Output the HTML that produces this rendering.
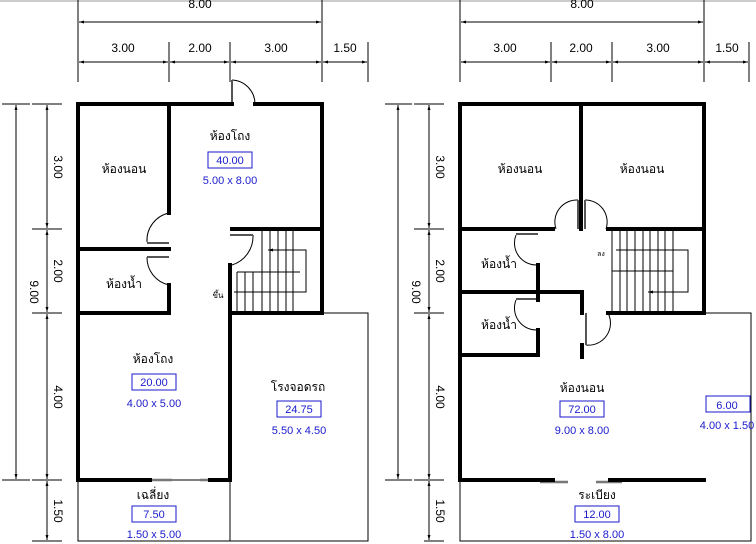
<!DOCTYPE html>
<html><head><meta charset="utf-8"><style>
html,body{margin:0;padding:0;background:#fff;}
svg{display:block;}
text{font-family:"Liberation Sans","Noto Sans CJK SC",sans-serif;}
</style></head><body>
<svg width="756" height="544" viewBox="0 0 756 544" xmlns="http://www.w3.org/2000/svg">
<defs>
<marker id="a" viewBox="0 0 10 10" refX="10" refY="5" markerWidth="7" markerHeight="5" orient="auto-start-reverse"><path d="M0,2 L10,5 L0,8z" fill="#000"/></marker>
</defs>
<line x1="0" y1="1" x2="756" y2="1" stroke="#999" stroke-width="1"/>
<g stroke="#000" stroke-width="1" fill="none">
<line x1="78" y1="0" x2="78" y2="82"/><line x1="322" y1="0" x2="322" y2="82"/>
<line x1="169" y1="42" x2="169" y2="82"/><line x1="230" y1="42" x2="230" y2="82"/><line x1="368" y1="42" x2="368" y2="82"/>
<line x1="79" y1="22" x2="321" y2="22" marker-start="url(#a)" marker-end="url(#a)"/>
<line x1="79" y1="62" x2="168" y2="62" marker-start="url(#a)" marker-end="url(#a)"/>
<line x1="170" y1="62" x2="229" y2="62" marker-start="url(#a)" marker-end="url(#a)"/>
<line x1="231" y1="62" x2="321" y2="62" marker-start="url(#a)" marker-end="url(#a)"/>
<line x1="323" y1="62" x2="367" y2="62" marker-start="url(#a)" marker-end="url(#a)"/>
<line x1="2" y1="104" x2="30" y2="104"/><line x1="32" y1="104" x2="62" y2="104"/>
<line x1="2" y1="480" x2="30" y2="480"/><line x1="32" y1="480" x2="62" y2="480"/>
<line x1="32" y1="229" x2="62" y2="229"/><line x1="32" y1="313" x2="62" y2="313"/><line x1="32" y1="541" x2="62" y2="541"/>
<line x1="16" y1="105" x2="16" y2="479" marker-start="url(#a)" marker-end="url(#a)"/>
<line x1="47" y1="105" x2="47" y2="228" marker-start="url(#a)" marker-end="url(#a)"/>
<line x1="47" y1="230" x2="47" y2="312" marker-start="url(#a)" marker-end="url(#a)"/>
<line x1="47" y1="314" x2="47" y2="479" marker-start="url(#a)" marker-end="url(#a)"/>
<line x1="47" y1="481" x2="47" y2="540" marker-start="url(#a)" marker-end="url(#a)"/>
<rect x="78" y="480" width="152" height="61"/>
<polyline points="230,313 368,313 368,541 230,541 230,480"/>
<path d="M262,230V272M270,230V272M278,230V272M286,230V272M293,230V272"/>
<path d="M237,272H300M237,272V313M245,272V313M253,272V313M262,272V313M270,272V313M278,272V313M286,272V313M293,272V313"/>
<path d="M234,292H306V250H268" marker-end="url(#a)"/>
<path d="M232,80 A24,24 0 0 1 255,104"/><line x1="232" y1="80" x2="232" y2="104" stroke-width="2" stroke="#555"/>
<path d="M169,213 A28,28 0 0 0 147,242"/><line x1="147" y1="243" x2="169" y2="243" stroke="#555" stroke-width="2"/>
<path d="M147,257 A28,28 0 0 0 169,285"/><line x1="147" y1="257" x2="169" y2="257" stroke="#555" stroke-width="2"/>
<path d="M253,235 A30,30 0 0 1 232,265"/><line x1="230" y1="235" x2="253" y2="235" stroke="#555" stroke-width="2"/>
<line x1="150" y1="480" x2="172" y2="480" stroke="#777" stroke-width="2.5"/>
<line x1="200" y1="480" x2="222" y2="480" stroke="#777" stroke-width="2.5"/>
</g>
<g stroke="#000" stroke-width="4" fill="none" stroke-linecap="square">
<polyline points="232,104 78,104 78,480 150,480"/>
<polyline points="255,104 322,104 322,313 232,313"/>
<line x1="169" y1="104" x2="169" y2="213"/>
<line x1="78" y1="249" x2="169" y2="249"/>
<line x1="169" y1="285" x2="169" y2="313"/><line x1="78" y1="313" x2="169" y2="313"/>
<line x1="232" y1="229" x2="322" y2="229"/>
<line x1="230" y1="265" x2="230" y2="480"/><line x1="210" y1="480" x2="230" y2="480"/>
</g>
<g font-size="12" text-anchor="middle" fill="#000">
<text x="200" y="8">8.00</text>
<text x="123" y="52">3.00</text><text x="200" y="52">2.00</text><text x="276" y="52">3.00</text><text x="345" y="52">1.50</text>
<text transform="translate(30,292) rotate(90)">9.00</text>
<text transform="translate(54,167) rotate(90)">3.00</text>
<text transform="translate(54,271) rotate(90)">2.00</text>
<text transform="translate(54,397) rotate(90)">4.00</text>
<text transform="translate(54,511) rotate(90)">1.50</text>
<text x="230" y="140">ห้องโถง</text>
<text x="124" y="173">ห้องนอน</text>
<text x="124" y="288">ห้องน้ำ</text>
<text x="153" y="363">ห้องโถง</text>
<text x="298" y="391">โรงจอดรถ</text>
<text x="153" y="499">เฉลี่ยง</text>
<text x="218" y="298" font-size="8">ขึ้น</text>
</g>
<g font-size="11" text-anchor="middle" fill="#1a1acc">
<rect x="208" y="152" width="44" height="16" fill="none" stroke="#1a1acc"/><text x="230" y="164">40.00</text><text x="230" y="184">5.00 x 8.00</text>
<rect x="132" y="374" width="44" height="16" fill="none" stroke="#1a1acc"/><text x="154" y="386">20.00</text><text x="154" y="407">4.00 x 5.00</text>
<rect x="277" y="401" width="44" height="16" fill="none" stroke="#1a1acc"/><text x="299" y="413">24.75</text><text x="299" y="434">5.50 x 4.50</text>
<rect x="132" y="506" width="44" height="16" fill="none" stroke="#1a1acc"/><text x="154" y="518">7.50</text><text x="154" y="538">1.50 x 5.00</text>
</g>

<g stroke="#000" stroke-width="1" fill="none">
<line x1="460" y1="0" x2="460" y2="82"/><line x1="704" y1="0" x2="704" y2="82"/>
<line x1="551" y1="42" x2="551" y2="82"/><line x1="612" y1="42" x2="612" y2="82"/><line x1="749" y1="42" x2="749" y2="82"/>
<line x1="461" y1="22" x2="703" y2="22" marker-start="url(#a)" marker-end="url(#a)"/>
<line x1="461" y1="62" x2="550" y2="62" marker-start="url(#a)" marker-end="url(#a)"/>
<line x1="552" y1="62" x2="611" y2="62" marker-start="url(#a)" marker-end="url(#a)"/>
<line x1="613" y1="62" x2="703" y2="62" marker-start="url(#a)" marker-end="url(#a)"/>
<line x1="705" y1="62" x2="748" y2="62" marker-start="url(#a)" marker-end="url(#a)"/>
<line x1="385" y1="104" x2="412" y2="104"/><line x1="414" y1="104" x2="444" y2="104"/>
<line x1="385" y1="480" x2="412" y2="480"/><line x1="414" y1="480" x2="444" y2="480"/>
<line x1="414" y1="229" x2="444" y2="229"/><line x1="414" y1="313" x2="444" y2="313"/><line x1="424" y1="541" x2="444" y2="541"/>
<line x1="398" y1="105" x2="398" y2="479" marker-start="url(#a)" marker-end="url(#a)"/>
<line x1="429" y1="105" x2="429" y2="228" marker-start="url(#a)" marker-end="url(#a)"/>
<line x1="429" y1="230" x2="429" y2="312" marker-start="url(#a)" marker-end="url(#a)"/>
<line x1="429" y1="314" x2="429" y2="479" marker-start="url(#a)" marker-end="url(#a)"/>
<line x1="429" y1="481" x2="429" y2="540" marker-start="url(#a)" marker-end="url(#a)"/>
<polyline points="704,313 751,313 751,541 460,541 460,480"/>
<path d="M612,230V312M620,230V312M627,230V312M635,230V312M643,230V312M650,230V312M658,230V312M665,230V312M673,230V312"/>
<path d="M612,271H673"/>
<path d="M616,250H688V292H648" marker-end="url(#a)"/>
<path d="M556,229 A22,22 0 0 1 578,200"/><line x1="578" y1="200" x2="578" y2="229" stroke="#555" stroke-width="2"/>
<path d="M606,229 A22,22 0 0 0 585,200"/><line x1="585" y1="200" x2="585" y2="229" stroke="#555" stroke-width="2"/>
<path d="M538,265 A22,22 0 0 1 516,235"/><line x1="516" y1="234" x2="538" y2="234" stroke="#555" stroke-width="2"/>
<path d="M538,330 A22,22 0 0 1 516,300"/><line x1="516" y1="299" x2="538" y2="299" stroke="#555" stroke-width="2"/>
<path d="M586,345 A22,22 0 0 0 608,313"/><line x1="586" y1="313" x2="586" y2="345" stroke="#555" stroke-width="2"/>
<line x1="540" y1="482" x2="568" y2="482" stroke="#777" stroke-width="2.5"/>
<line x1="596" y1="482" x2="622" y2="482" stroke="#777" stroke-width="2.5"/>
</g>
<g stroke="#000" stroke-width="4" fill="none" stroke-linecap="square">
<polyline points="460,104 704,104 704,313 608,313"/>
<polyline points="460,104 460,480 553,480"/><line x1="610" y1="480" x2="704" y2="480"/>
<line x1="581" y1="104" x2="581" y2="229"/>
<line x1="460" y1="229" x2="553" y2="229"/><line x1="608" y1="229" x2="704" y2="229"/>
<line x1="538" y1="265" x2="538" y2="300"/><line x1="538" y1="330" x2="538" y2="355"/>
<line x1="460" y1="292" x2="582" y2="292"/><line x1="582" y1="292" x2="582" y2="313"/><line x1="582" y1="345" x2="582" y2="357"/>
<line x1="460" y1="355" x2="538" y2="355"/>
</g>
<g font-size="12" text-anchor="middle" fill="#000">
<text x="582" y="8">8.00</text>
<text x="505" y="52">3.00</text><text x="581" y="52">2.00</text><text x="658" y="52">3.00</text><text x="727" y="52">1.50</text>
<text transform="translate(412,292) rotate(90)">9.00</text>
<text transform="translate(436,167) rotate(90)">3.00</text>
<text transform="translate(436,271) rotate(90)">2.00</text>
<text transform="translate(436,397) rotate(90)">4.00</text>
<text transform="translate(436,511) rotate(90)">1.50</text>
<text x="520" y="173">ห้องนอน</text><text x="642" y="173">ห้องนอน</text>
<text x="499" y="268">ห้องน้ำ</text><text x="499" y="329">ห้องน้ำ</text>
<text x="582" y="392">ห้องนอน</text>
<text x="597" y="499">ระเบียง</text>
<text x="601" y="256" font-size="7">ลง</text>
</g>
<g font-size="11" text-anchor="middle" fill="#1a1acc">
<rect x="560" y="401" width="44" height="16" fill="none" stroke="#1a1acc"/><text x="582" y="413">72.00</text><text x="582" y="434">9.00 x 8.00</text>
<rect x="706" y="396" width="44" height="16" fill="none" stroke="#1a1acc"/><text x="727" y="409">6.00</text><text x="727" y="429">4.00 x 1.50</text>
<rect x="575" y="506" width="44" height="16" fill="none" stroke="#1a1acc"/><text x="597" y="518">12.00</text><text x="597" y="538">1.50 x 8.00</text>
</g>
</svg>
</body></html>
